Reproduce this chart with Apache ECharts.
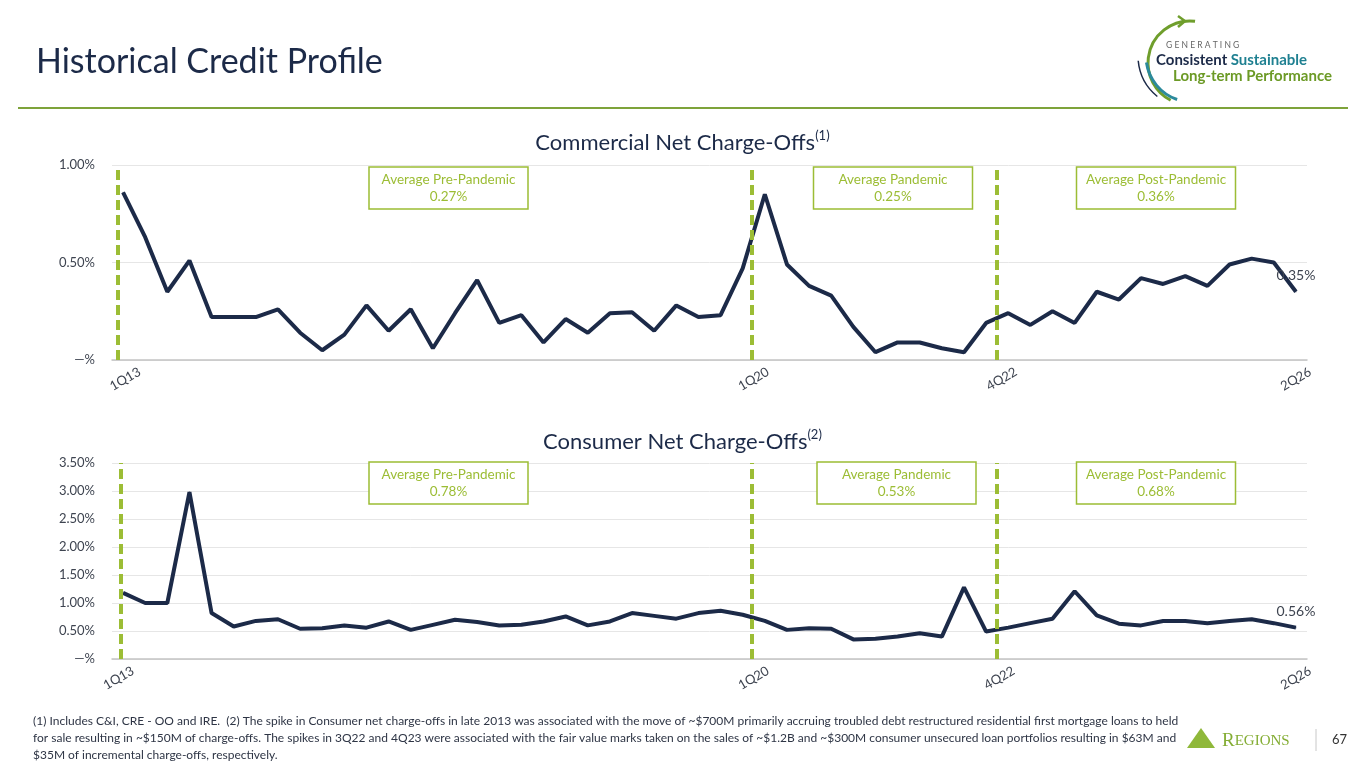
<!DOCTYPE html>
<html>
<head>
<meta charset="utf-8">
<title>Historical Credit Profile</title>
<script src="https://cdn.jsdelivr.net/npm/echarts@6/dist/echarts.min.js"></script>
<style>
  html, body { margin: 0; padding: 0; background: #fff; }
  #chart { width: 1365px; height: 768px; }
</style>
</head>
<body>
<div id="chart"></div>
<script>
const quarters = [
  '1Q13', '2Q13', '3Q13', '4Q13', '1Q14', '2Q14', '3Q14', '4Q14',
  '1Q15', '2Q15', '3Q15', '4Q15', '1Q16', '2Q16', '3Q16', '4Q16',
  '1Q17', '2Q17', '3Q17', '4Q17', '1Q18', '2Q18', '3Q18', '4Q18',
  '1Q19', '2Q19', '3Q19', '4Q19', '1Q20', '2Q20', '3Q20', '4Q20',
  '1Q21', '2Q21', '3Q21', '4Q21', '1Q22', '2Q22', '3Q22', '4Q22',
  '1Q23', '2Q23', '3Q23', '4Q23', '1Q24', '2Q24', '3Q24', '4Q24',
  '1Q25', '2Q25', '3Q25', '4Q25', '1Q26', '2Q26'
]
// net charge-offs, % of loans
const commercialNCO = [
  0.86, 0.63, 0.35, 0.51, 0.22, 0.22, 0.22, 0.26, 0.14, 0.05, 0.13, 0.28,
  0.15, 0.26, 0.06, 0.24, 0.41, 0.19, 0.23, 0.09, 0.21, 0.14, 0.24, 0.245,
  0.15, 0.28, 0.22, 0.23, 0.47, 0.85, 0.49, 0.38, 0.33, 0.17, 0.04, 0.09,
  0.09, 0.06, 0.04, 0.19, 0.24, 0.18, 0.25, 0.19, 0.35, 0.31, 0.42, 0.39,
  0.43, 0.38, 0.49, 0.52, 0.50, 0.35
]
const consumerNCO = [
  1.18, 1.00, 1.00, 2.98, 0.82, 0.58, 0.68, 0.71, 0.54, 0.55, 0.60, 0.56,
  0.67, 0.52, 0.61, 0.70, 0.66, 0.60, 0.61, 0.67, 0.76, 0.60, 0.67, 0.82,
  0.77, 0.72, 0.82, 0.86, 0.79, 0.68, 0.52, 0.55, 0.54, 0.35, 0.36, 0.40,
  0.46, 0.40, 1.28, 0.49, 0.56, 0.64, 0.72, 1.21, 0.78, 0.63, 0.60, 0.68,
  0.68, 0.64, 0.68, 0.71, 0.64, 0.56
]
const tickLabels = ['1Q13', '1Q20', '4Q22', '2Q26']
const periodNames = ['Average Pre-Pandemic', 'Average Pandemic', 'Average Post-Pandemic']
const commercialAvg = [0.27, 0.25, 0.36]
const consumerAvg = [0.78, 0.53, 0.68]

const FONT = 'Lato, "Noto Sans", sans-serif'
const NAVY = '#1c2a48'
const GREEN = '#9cbd35'
const TEXT = '#3e4450'

let pct = (v) => (v === 0 ? '\u2014%' : v.toFixed(2) + '%')

let chart = echarts.init(document.getElementById('chart'))

// label centres on the quarter axis (index units), slightly shifted like the slide
let labelPos = (shift) => tickLabels.map((q, k) => quarters.indexOf(q) + shift[k])

let xAxisFor = (gridIndex, pos) => ({
  type: 'value',
  gridIndex: gridIndex,
  min: -0.5,
  max: 53.5,
  axisLine: { lineStyle: { color: '#c4c4c4', width: 1.5 } },
  axisTick: { show: false },
  splitLine: { show: false },
  axisLabel: {
    customValues: pos,
    formatter: function (v) {
      let k = pos.findIndex((p) => Math.abs(p - v) < 1e-6)
      return k < 0 ? '' : tickLabels[k]
    },
    rotate: 30,
    align: 'center',
    verticalAlign: 'middle',
    margin: 19,
    fontSize: 13,
    color: TEXT,
    fontFamily: FONT
  }
})

let yAxisFor = (gridIndex, max) => ({
  type: 'value',
  gridIndex: gridIndex,
  min: 0,
  max: max,
  interval: 0.5,
  axisLine: { show: false },
  axisTick: { show: false },
  splitLine: { lineStyle: { color: '#e6e6e6', width: 1 } },
  axisLabel: {
    formatter: pct,
    margin: 17,
    fontSize: 13,
    color: TEXT,
    fontFamily: FONT
  }
})

let dividers = (xs) => ({
  silent: true,
  symbol: 'none',
  label: { show: false },
  lineStyle: { color: GREEN, width: 4, type: [10, 5] },
  data: xs.map((x) => ({ xAxis: x }))
})

let lineSeries = (values, axisIndex, lines) => ({
  type: 'line',
  xAxisIndex: axisIndex,
  yAxisIndex: axisIndex,
  symbol: 'circle',
  symbolSize: 1,
  lineStyle: { color: NAVY, width: 4 },
  itemStyle: { color: NAVY },
  data: values.map((v, i) => {
    if (i < values.length - 1) return [i, v]
    return {
      value: [i, v],
      label: {
        show: true,
        position: 'top',
        distance: 9,
        formatter: (p) => p.value[1].toFixed(2) + '%',
        fontSize: 14,
        color: TEXT,
        fontFamily: FONT
      }
    }
  }),
  markLine: dividers(lines),
  z: 3
})

// boxes with the period averages
let avgBoxes = (avgs, top, centres) => {
  let out = []
  avgs.forEach((a, k) => {
    out.push({
      type: 'rect',
      shape: { x: centres[k] - 79.5, y: top, width: 159, height: 42 },
      style: { fill: '#fff', stroke: GREEN, lineWidth: 1.5 },
      z: 10
    })
    out.push({
      type: 'text',
      x: centres[k],
      y: top + 21,
      style: {
        text: periodNames[k] + '\n' + a.toFixed(2) + '%',
        align: 'center',
        verticalAlign: 'middle',
        lineHeight: 17,
        fill: GREEN,
        fontSize: 13.5,
        fontFamily: FONT
      },
      z: 11
    })
  })
  return out
}

let footnote = [
  '(1) Includes C&I, CRE - OO and IRE.  (2) The spike in Consumer net charge-offs in late 2013 was associated with the move of ~$700M primarily accruing troubled debt restructured residential first mortgage loans to held',
  'for sale resulting in ~$150M of charge-offs. The spikes in 3Q22 and 4Q23 were associated with the fair value marks taken on the sales of ~$1.2B and ~$300M consumer unsecured loan portfolios resulting in $63M and',
  '$35M of incremental charge-offs, respectively.'
]

let graphics = [
  {
    type: 'line',
    shape: { x1: 18, y1: 108, x2: 1348, y2: 108 },
    style: { stroke: '#7ea33a', lineWidth: 2 }
  },
  // sustainability logo
  {
    type: 'arc',
    shape: { cx: 1190, cy: 63, r: 42, startAngle: -1.45, endAngle: 2.05, clockwise: false },
    style: { stroke: '#6f9e2c', lineWidth: 3, fill: 'none' }
  },
  {
    type: 'polyline',
    shape: { points: [[1178, 16], [1185, 21], [1178, 27]] },
    style: { stroke: '#6f9e2c', lineWidth: 2.5, fill: 'none' }
  },
  {
    type: 'arc',
    shape: { cx: 1192, cy: 56, r: 46, startAngle: 3.0, endAngle: 1.9, clockwise: false },
    style: { stroke: '#2c8a9c', lineWidth: 3, fill: 'none' }
  },
  {
    type: 'arc',
    shape: { cx: 1190, cy: 56, r: 52, startAngle: 3.05, endAngle: 2.25, clockwise: false },
    style: { stroke: NAVY, lineWidth: 1.5, fill: 'none' }
  },
  {
    type: 'text',
    x: 1166,
    y: 45,
    style: { text: 'G E N E R A T I N G', fill: '#666', fontSize: 8.5, fontFamily: FONT, verticalAlign: 'middle' }
  },
  {
    type: 'text',
    x: 1156,
    y: 60,
    style: {
      text: '{a|Consistent} {b|Sustainable}',
      verticalAlign: 'middle',
      rich: {
        a: { fill: NAVY, fontSize: 15, fontWeight: 'bold', fontFamily: FONT },
        b: { fill: '#1f8091', fontSize: 15, fontWeight: 'bold', fontFamily: FONT }
      }
    }
  },
  {
    type: 'text',
    x: 1173,
    y: 76,
    style: { text: 'Long-term Performance', fill: '#6c9a26', fontSize: 15, fontWeight: 'bold', fontFamily: FONT, verticalAlign: 'middle' }
  },
  // footer
  {
    type: 'polygon',
    shape: { points: [[1187, 748], [1201, 728], [1215, 748]] },
    style: { fill: '#8fb83a' }
  },
  {
    type: 'text',
    x: 1222,
    y: 741,
    style: {
      text: '{r|R}{s|EGIONS}',
      verticalAlign: 'middle',
      rich: {
        r: { fill: '#84ad34', fontSize: 19, fontFamily: '"Liberation Serif", serif' },
        s: { fill: '#84ad34', fontSize: 15, fontFamily: '"Liberation Serif", serif' }
      }
    }
  },
  {
    type: 'line',
    shape: { x1: 1316, y1: 729, x2: 1316, y2: 751 },
    style: { stroke: '#c8c8c8', lineWidth: 1 }
  },
  {
    type: 'text',
    x: 1332,
    y: 740,
    style: { text: '67', fill: '#333', fontSize: 13, fontFamily: FONT, verticalAlign: 'middle' }
  }
]
footnote.forEach((t, k) => {
  graphics.push({
    type: 'text',
    x: 33,
    y: 721 + k * 17,
    style: { text: t, fill: '#2e3545', fontSize: 12, fontFamily: FONT, verticalAlign: 'middle' }
  })
})

let chartTitle = (name, note, top) => ({
  text: '{t|' + name + '}{s|' + note + '}',
  left: 'center',
  top: top,
  textStyle: {
    rich: {
      t: { color: NAVY, fontSize: 22, fontWeight: 'normal', lineHeight: 28, fontFamily: FONT },
      s: { color: NAVY, fontSize: 13, fontWeight: 'normal', lineHeight: 14, verticalAlign: 'top', fontFamily: FONT }
    }
  }
})

let option = {
  animation: false,
  backgroundColor: '#fff',
  title: [
    {
      text: 'Historical Credit Profile',
      left: 31,
      top: 40,
      textStyle: { color: NAVY, fontSize: 34, fontWeight: 'normal', fontFamily: FONT }
    },
    chartTitle('Commercial Net Charge-Offs', '(1)', 124),
    chartTitle('Consumer Net Charge-Offs', '(2)', 423)
  ],
  grid: [
    { left: 112, right: 58, top: 165, height: 195 },
    { left: 112, right: 58, top: 463, height: 196 }
  ],
  xAxis: [
    xAxisFor(0, labelPos([0.1, 0.5, 0.7, 0])),
    xAxisFor(1, labelPos([-0.2, 0.5, 0.6, 0]))
  ],
  yAxis: [yAxisFor(0, 1), yAxisFor(1, 3.5)],
  series: [
    lineSeries(commercialNCO, 0, [-0.22, 28.43, 39.5]),
    lineSeries(consumerNCO, 1, [-0.1, 28.43, 39.5])
  ],
  graphic: graphics
    .concat(avgBoxes(commercialAvg, 167, [448.5, 893, 1156]))
    .concat(avgBoxes(consumerAvg, 462, [448.5, 896.5, 1156]))
}

chart.setOption(option)
</script>
</body>
</html>
